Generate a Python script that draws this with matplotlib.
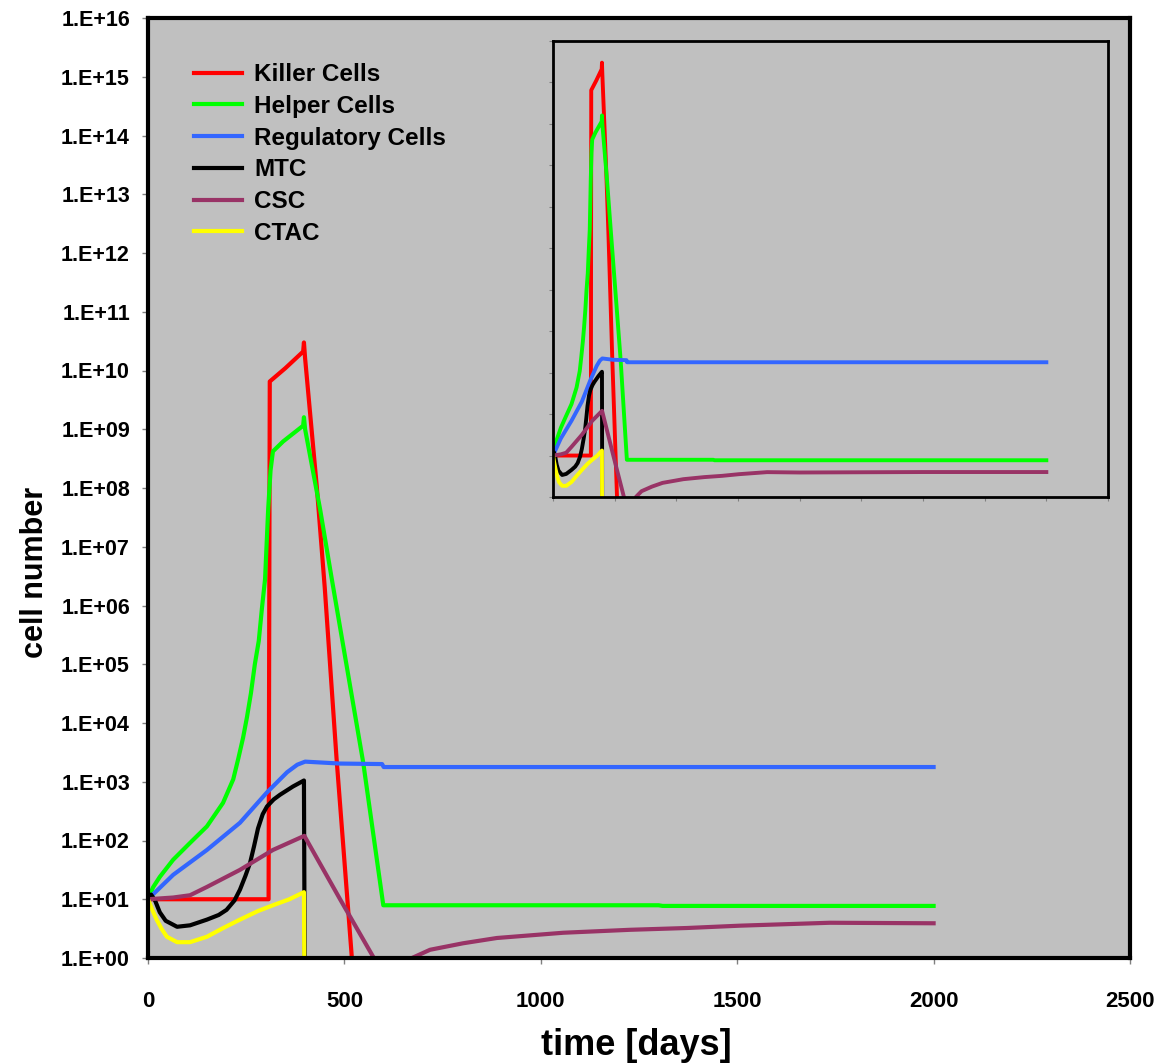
import numpy as np
import matplotlib
matplotlib.use("Agg")
import matplotlib.pyplot as plt

# days, cell numbers
killer_t = [0, 307, 310, 350, 395, 397, 400, 430, 450, 480, 519, 525]
killer_v = [10, 10, 6.5e9, 1.1e10, 2.1e10, 3.0e10, 1.6e10, 1e8, 2e6, 2.5e3, 1.0, 0.3]

helper_t = [0, 13, 30, 64, 107, 150, 191, 217, 230, 242, 252, 262, 272, 282, 290, 298,
            306, 312, 318, 344, 395, 397, 400, 438, 468, 548, 599, 1300, 1310, 2000, 4000]
helper_v = [10, 16, 24, 47, 91, 174, 437, 1.1e3, 2.5e3, 5.6e3, 1.26e4, 3.2e4, 1.0e5,
            2.5e5, 8.9e5, 2.8e6, 4.4e7, 2e8, 4.2e8, 6.2e8, 1.15e9, 1.6e9, 1.0e9, 4.4e7,
            2.8e6, 2.1e3, 7.9, 7.9, 7.7, 7.7, 7.7]

reg_t = [0, 64, 150, 234, 303, 354, 380, 400, 489, 596, 600, 2000, 4000]
reg_v = [10, 26, 69, 200, 660, 1450, 1950, 2200, 2040, 2000, 1780, 1780, 1780]

mtc_t = [0, 8, 18, 30, 45, 74, 107, 150, 180, 200, 220, 234, 248, 260, 270, 280, 292,
         303, 320, 336, 369, 397, 400]
mtc_v = [10, 12, 9.5, 6.0, 4.3, 3.4, 3.6, 4.5, 5.4, 6.6, 9.5, 14.5, 25, 42, 80, 160,
         280, 380, 500, 600, 830, 1050, 0.01]

ctac_t = [0, 10, 22, 35, 48, 74, 107, 150, 190, 234, 280, 318, 360, 397, 399]
ctac_v = [10, 6.8, 4.5, 3.1, 2.3, 1.86, 1.86, 2.3, 3.2, 4.5, 6.3, 7.9, 10, 13.2, 0.01]

csc_t = [0, 64, 107, 150, 234, 318, 398, 489, 575, 620, 672, 718, 802, 888, 1057,
         1227, 1372, 1507, 1736, 2000, 2500, 3000, 4000]
csc_v = [10, 10.7, 11.7, 16.2, 31.6, 69, 120, 10, 1.0, 0.01, 1.0, 1.38, 1.78, 2.19,
         2.69, 3.02, 3.24, 3.55, 3.98, 3.9, 3.95, 4.0, 4.0]

series = [
    ("Killer Cells", killer_t, killer_v, "#FF0000"),
    ("Helper Cells", helper_t, helper_v, "#00FF00"),
    ("Regulatory Cells", reg_t, reg_v, "#3366FF"),
    ("MTC", mtc_t, mtc_v, "#000000"),
    ("CSC", csc_t, csc_v, "#993366"),
    ("CTAC", ctac_t, ctac_v, "#FFFF00"),
]

y_ticks = [10.0 ** k for k in range(17)]
y_labels = ["1.E+%02d" % k for k in range(17)]
x_ticks = [0, 500, 1000, 1500, 2000, 2500]
main_end = 2000

narrow = ["Liberation Sans Narrow", "Liberation Sans", "DejaVu Sans"]
bold_sans = ["Liberation Sans", "DejaVu Sans"]

fig = plt.figure(figsize=(11.57, 10.63), dpi=100)
ax = fig.add_axes([148 / 1157, 1 - 958 / 1063, 982 / 1157, 940 / 1063])
ax.set_facecolor("#C0C0C0")

for name, t, v, c in series:
    t = np.array(t, dtype=float)
    v = np.array(v, dtype=float)
    keep = t <= main_end
    ax.plot(t[keep], v[keep], color=c, lw=3.0, label=name)

ax.set_yscale("log")
ax.set_ylim(1, 1e16)
ax.set_xlim(0, 2500)
ax.set_yticks(y_ticks)
ax.set_yticklabels(y_labels, fontfamily=bold_sans, fontweight="bold", fontsize=15.5)
ax.set_xticks(x_ticks)
ax.set_xticklabels([str(x) for x in x_ticks], fontfamily=narrow, fontweight="bold", fontsize=16)
ax.yaxis.set_minor_locator(matplotlib.ticker.NullLocator())
ax.tick_params(axis="y", direction="out", length=4, width=1, color="#808080", pad=9)
ax.tick_params(axis="x", direction="out", length=4, width=1, color="#808080", pad=20)
for s in ax.spines.values():
    s.set_linewidth(3.0)
    s.set_color("black")

ax.set_ylabel("cell number", fontfamily=narrow, fontweight="bold", fontsize=22)
ax.yaxis.set_label_coords(-0.1, 0.41)
ax.set_xlabel("time [days]", fontfamily=narrow, fontweight="bold", fontsize=26)
ax.xaxis.set_label_coords(0.497, -0.093)
ax.xaxis.label.set_va("center")

leg = ax.legend(loc="upper left", bbox_to_anchor=(0.034, 0.965), frameon=False,
                prop={"family": bold_sans, "weight": "bold", "size": 17.5},
                handlelength=2.0, handletextpad=0.5, labelspacing=0.36, borderpad=0)

# inset: same run, longer time span
ins = fig.add_axes([553 / 1157, 1 - 497 / 1063, 555 / 1157, 456 / 1063])
ins.set_facecolor("#C0C0C0")
for name, t, v, c in series:
    ins.plot(t, v, color=c, lw=2.8)
ins.set_yscale("log")
ins.set_ylim(1, 1e11)
ins.set_xlim(0, 4500)
ins.set_yticks(y_ticks[:12])
ins.yaxis.set_minor_locator(matplotlib.ticker.NullLocator())
ins.set_xticks(np.arange(0, 4501, 500))
ins.set_xticklabels([])
ins.set_yticklabels([])
ins.tick_params(direction="out", length=3, width=0.8, color="#808080")
for s in ins.spines.values():
    s.set_linewidth(2.0)
    s.set_color("black")

fig.savefig("out.png", dpi=100)
